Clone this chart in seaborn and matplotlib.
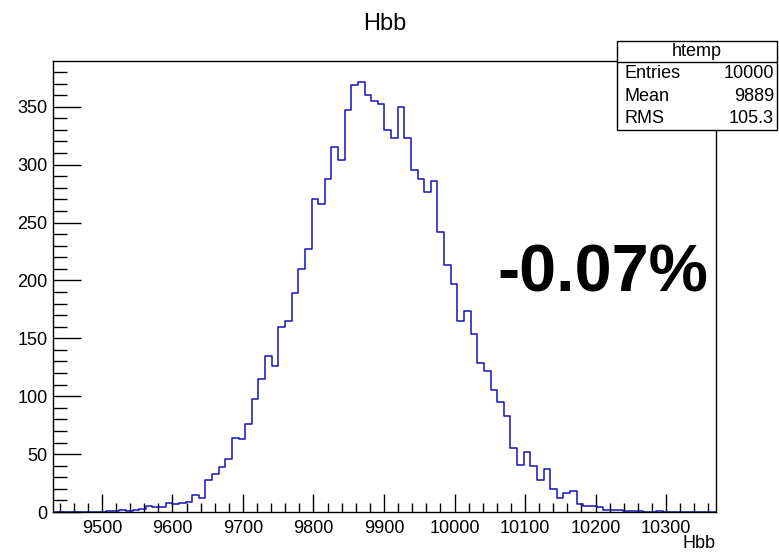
#!/usr/bin/env python3
# ROOT-style Hbb histogram redrawn with seaborn

import numpy as np
import pandas as pd
import matplotlib.pyplot as plt
import matplotlib.patches as mpatches
from matplotlib.ticker import MultipleLocator
import seaborn as sns

sns.set_style("ticks")
plt.rcParams["font.family"] = ["Liberation Sans", "DejaVu Sans"]
plt.rcParams["text.color"] = "black"
plt.rcParams["xtick.color"] = "black"
plt.rcParams["ytick.color"] = "black"
plt.rcParams["axes.labelcolor"] = "black"

# histogram contents (100 bins)
x_low = 9430.6
bin_width = 9.4
counts = [
    0, 0, 0, 0, 0, 0, 0, 0,
    1, 1, 2, 1, 2, 3, 5, 4, 4, 8, 7, 8, 9, 15, 12,
    28, 33, 39, 46, 64, 63, 76, 98, 115, 135, 126, 160, 165, 189, 210,
    227, 270, 266, 288, 315, 304, 347, 369, 371, 360, 355, 352, 330, 323,
    350, 323, 295, 288, 276, 286,
    242, 213, 197, 165, 174, 154, 129, 122, 105, 95, 83, 55, 41, 52, 40, 28, 37,
    20, 12, 16, 18, 7, 5, 5, 4, 2, 2, 2, 1, 1, 1, 0, 0, 1,
    0, 0, 0, 0, 0, 0, 0, 0,
]
stats_names = ["Entries", "Mean", "RMS"]
stats_values = ["10000", "9889", "105.3"]
hist_name = "htemp"
title = "Hbb"
big_label = "-0.07%"

nbins = len(counts)
x_high = x_low + bin_width * nbins
centers = x_low + bin_width * (np.arange(nbins) + 0.5)
df = pd.DataFrame({"Hbb": centers, "n": np.array(counts, dtype=float)})

fig = plt.figure(figsize=(7.79, 5.54), dpi=100)
ax = fig.add_axes([0.068, 0.0758, 0.851, 0.8142])

sns.histplot(
    data=df, x="Hbb", weights="n", bins=nbins, binrange=(x_low, x_high),
    element="step", fill=False, color="#1414b4", linewidth=1.1, ax=ax
)

ax.set_xlim(x_low, x_high)
ax.set_ylim(0, max(counts) * 1.05)
ax.set_ylabel("")
ax.set_xlabel("")

# ROOT look: ticks inside, only left/bottom
ax.xaxis.set_major_locator(MultipleLocator(100))
ax.xaxis.set_minor_locator(MultipleLocator(20))
ax.yaxis.set_major_locator(MultipleLocator(50))
ax.yaxis.set_minor_locator(MultipleLocator(10))
ax.tick_params(axis="x", which="major", direction="in", length=13, width=1,
               labelsize=13, pad=6, top=False)
ax.tick_params(axis="x", which="minor", direction="in", length=6.5, width=1, top=False)
ax.tick_params(axis="y", which="major", direction="in", length=20, width=1,
               labelsize=13, pad=4, right=False)
ax.tick_params(axis="y", which="minor", direction="in", length=10, width=1, right=False)
for s in ax.spines.values():
    s.set_visible(True)
    s.set_linewidth(1)
    s.set_color("black")

fig.text(716 / 779, 1 - 543 / 554, "Hbb", ha="right", va="center", fontsize=13)
fig.text(385 / 779, 1 - 24 / 554, title, ha="center", va="center", fontsize=17)

# big annotation
fig.text(497 / 779, 1 - 291.7 / 554, big_label, ha="left", va="baseline",
         fontsize=48, fontweight="bold")

# stats box
bx0, bx1 = 617 / 779, 777 / 779
by_top, by_bot, by_mid = 1 - 40.7 / 554, 1 - 130 / 554, 1 - 62.3 / 554
fig.patches.append(mpatches.Rectangle(
    (bx0, by_bot), bx1 - bx0, by_top - by_bot, transform=fig.transFigure,
    facecolor="white", edgecolor="black", linewidth=1, zorder=5))
fig.lines.append(plt.Line2D([bx0, bx1], [by_mid, by_mid], transform=fig.transFigure,
                            color="black", linewidth=1, zorder=6))
fig.text((bx0 + bx1) / 2, 1 - 51.7 / 554, hist_name, ha="center", va="center",
         fontsize=13, zorder=7)
for i, (name, val) in enumerate(zip(stats_names, stats_values)):
    yy = 1 - (74 + i * 22.5) / 554
    fig.text(625 / 779, yy, name, ha="left", va="center", fontsize=13, zorder=7)
    fig.text(774 / 779, yy, val, ha="right", va="center", fontsize=13, zorder=7)

fig.savefig("out.png", dpi=100)
plt.close(fig)
